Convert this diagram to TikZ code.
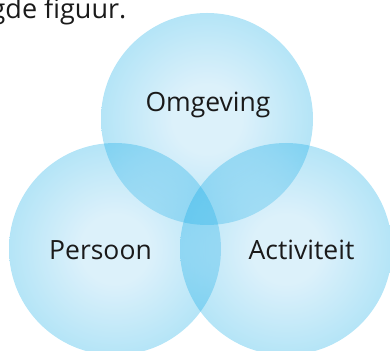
\documentclass[tikz,border=0pt]{standalone}
\usepackage{fontspec}
\setmainfont{Open Sans}
\usetikzlibrary{positioning}
\definecolor{ringin}{RGB}{140,208,240}
\definecolor{ringout}{RGB}{0,165,228}
\definecolor{ink}{RGB}{26,26,26}
\pgfdeclareradialshading{ringglow}{\pgfpoint{0bp}{0bp}}{color(0bp)=(ringin); color(8bp)=(ringin); color(26bp)=(ringout); color(50bp)=(ringout)}
\begin{document}
\begin{tikzpicture} [x=1pt, y=1pt, every text node part/.style={align=center},
        ring/.style={circle, minimum size=212pt, inner sep=0pt, shade, shading=ringglow, fill opacity=.3},
        word/.style={anchor=base, inner sep=0pt, text=ink, font=\fontsize{26.5}{31}\selectfont}]
        \useasboundingbox (0,0) rectangle (390,350);
        \node (intro) [word, anchor=base east, font=\fontsize{27}{32}\selectfont] at (126.5,331.5) {gde figuur.};
        \node (top) [ring] at (207,231) {};
        \node (left) [ring] at (115,101) {};
        \node (right) [ring] at (286,101) {};
        \node (omgeving) [word] at (208,238) {Omgeving};
        \node (persoon) [word] at (100.5,90) {Persoon};
        \node (activiteit) [word] at (301.5,90) {Activiteit};
    \end{tikzpicture}
\end{document}
